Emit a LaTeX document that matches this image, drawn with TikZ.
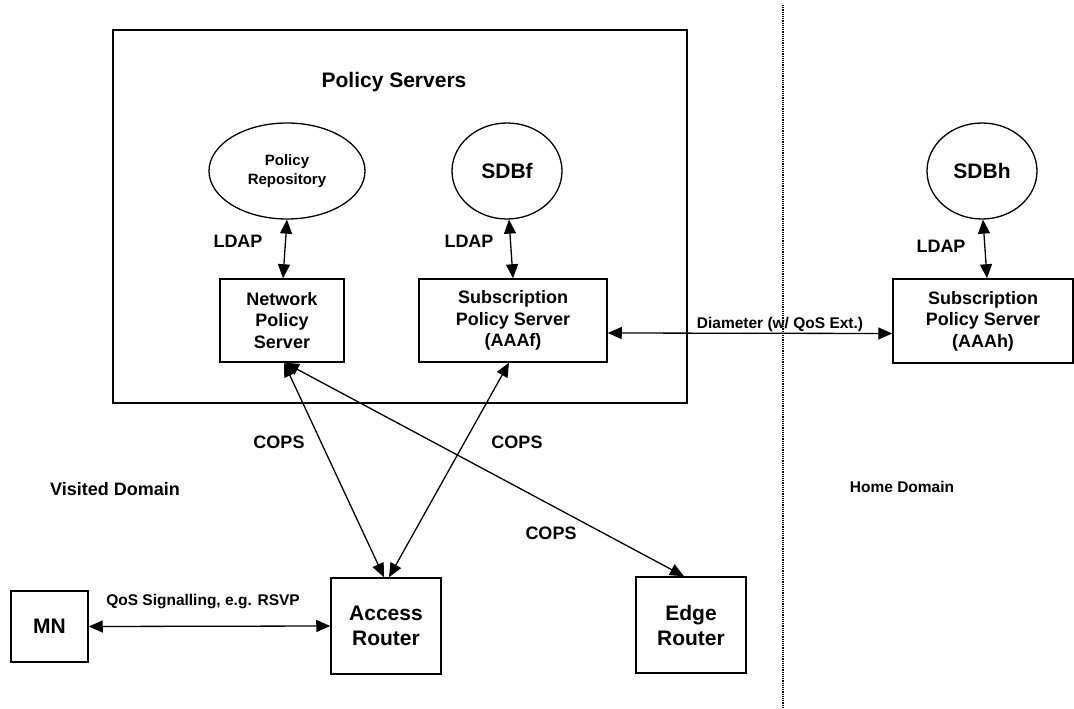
\documentclass[tikz,border=0pt]{standalone}
\usepackage{fontspec}
\setmainfont{Liberation Sans}
\usetikzlibrary{arrows.meta,shapes.geometric}
\tikzset{
  box/.style={draw, line width=1.5pt, align=center, inner sep=0pt, font=\bfseries\fontsize{18}{21.5}\selectfont},
  bigbox/.style={box, font=\bfseries\fontsize{21}{25}\selectfont},
  db/.style={draw, ellipse, line width=1.3pt, align=center, inner sep=0pt},
  lbl/.style={font=\bfseries\fontsize{18}{21.5}\selectfont, inner sep=0pt},
  slbl/.style={font=\bfseries\fontsize{15.5}{18}\selectfont, inner sep=0pt},
  link/.style={line width=1.3pt, {Triangle[length=14pt,width=12pt]}-{Triangle[length=14pt,width=12pt]}},
}
\begin{document}
\begin{tikzpicture}[x=1pt,y=-1pt]
\useasboundingbox (0,0) rectangle (1074,709);
% outer policy servers box
\node[draw, line width=1.5pt, minimum width=574pt, minimum height=373pt, inner sep=0pt] (ps) at (400,216.5) {};
\node[lbl, font=\bfseries\fontsize{21}{25}\selectfont] (title) at (394,82) {Policy Servers};
% databases
\node[db, minimum width=156pt, minimum height=96pt, font=\bfseries\fontsize{15}{18.5}\selectfont] (pr) at (287,171) {Policy\\Repository};
\node[db, minimum width=110pt, minimum height=96pt, font=\bfseries\fontsize{21}{25}\selectfont] (sdbf) at (507,171) {SDBf};
\node[db, minimum width=110pt, minimum height=96pt, font=\bfseries\fontsize{21}{25}\selectfont] (sdbh) at (982,171) {SDBh};
% servers
\node[box, minimum width=124pt, minimum height=83pt] (nps) at (282,320.5) {Network\\Policy\\Server};
\node[box, minimum width=188pt, minimum height=83pt] (sps) at (513,320.5) {Subscription\\Policy Server\\(AAAf)};
\node[box, minimum width=180pt, minimum height=84pt] (aaah) at (983,321) {Subscription\\Policy Server\\(AAAh)};
% routers and MN
\node[bigbox, minimum width=110pt, minimum height=96pt] (ar) at (386,626) {Access\\Router};
\node[bigbox, minimum width=110pt, minimum height=96pt] (er) at (691,625) {Edge\\Router};
\node[bigbox, minimum width=77pt, minimum height=71pt] (mn) at (49.5,626.5) {MN};
% domain separator
\coordinate (septop) at (783,5);
\coordinate (sepbot) at (783,709);
\draw[line width=1.2pt, densely dotted] (septop) -- (sepbot);
% connectors
\draw[link] (pr.south) -- ([xshift=1pt]nps.north);
\draw[link] ([xshift=2pt]sdbf.south) -- (sps.north);
\draw[link] ([xshift=1pt]sdbh.south) -- ([xshift=4pt]aaah.north);
\draw[link] ([yshift=-12.5pt]sps.east) -- ([yshift=-12.5pt]aaah.west);
\draw[link] ([xshift=2pt]nps.south) -- ([xshift=-2pt]ar.north);
\draw[link] ([xshift=3pt]nps.south) -- ([xshift=-7pt]er.north);
\draw[link] ([xshift=-4pt]sps.south) -- ([xshift=3pt]ar.north);
\draw[link] (mn.east) -- (ar.west);
% labels
\node[lbl] (ldap1) at (238,241) {LDAP};
\node[lbl] (ldap2) at (469,241) {LDAP};
\node[lbl] (ldap3) at (941,246) {LDAP};
\node[lbl] (cops1) at (279,442) {COPS};
\node[lbl] (cops2) at (517,442) {COPS};
\node[lbl] (cops3) at (551,533) {COPS};
\node[lbl] (visited) at (115,489) {Visited Domain};
\node[slbl] (home) at (902,487) {Home Domain};
\node[slbl] (qos) at (203,602) {QoS Signalling, e.g. RSVP};
\node[slbl] (diam) at (780,324) {Diameter (w/ QoS Ext.)};
\end{tikzpicture}
\end{document}
